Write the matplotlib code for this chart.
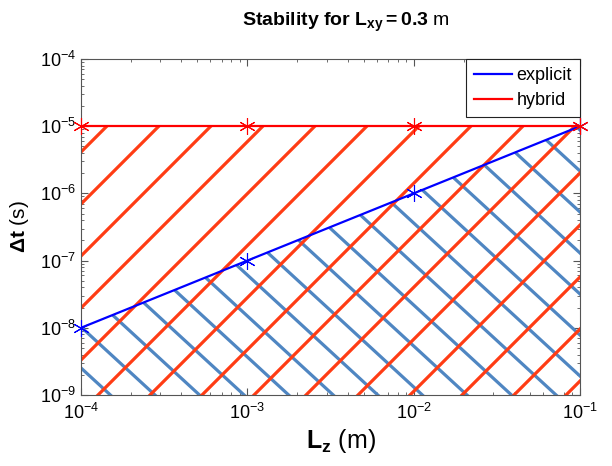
import numpy as np
import matplotlib
matplotlib.use('Agg')
import matplotlib.pyplot as plt
from matplotlib.collections import LineCollection

plt.rcParams['font.family'] = ['Liberation Sans', 'DejaVu Sans']
plt.rcParams['mathtext.fontset'] = 'custom'
plt.rcParams['mathtext.rm'] = 'Liberation Sans'
plt.rcParams['mathtext.it'] = 'Liberation Sans:italic'
plt.rcParams['mathtext.bf'] = 'Liberation Sans:bold'

# data
Lz = [1e-4, 1e-3, 1e-2, 1e-1]
dt_explicit = [1e-8, 1e-7, 1e-6, 1e-5]
dt_hybrid = [1e-5, 1e-5, 1e-5, 1e-5]
ymin, ymax = 1e-9, 1e-4

fig = plt.figure(figsize=(6.12, 4.66), dpi=100)
ax = fig.add_axes([0.1324, 0.1524, 0.8154, 0.721])
ax.set_xscale('log')
ax.set_yscale('log')
ax.set_xlim(Lz[0], Lz[-1])
ax.set_ylim(ymin, ymax)

# regions used as clip paths for the hatch lines
reg_h = ax.fill_between(Lz, ymin, dt_hybrid, facecolor='none', edgecolor='none')
reg_e = ax.fill_between(Lz, ymin, dt_explicit, facecolor='none', edgecolor='none')

W, H = 499.0, 336.0  # axes size in pixels


def hatch(region, slope, c0, step, color):
    # parallel lines py = slope*px + c (pixels), clipped to a region
    segs = []
    for k in range(-40, 40):
        c = c0 + k * step
        x0, x1 = -2 * W, 2 * W
        segs.append([(x0 / W, (slope * x0 + c) / H), (x1 / W, (slope * x1 + c) / H)])
    lc = LineCollection(segs, colors=color, linewidths=2.3,
                        transform=ax.transAxes, zorder=2)
    ax.add_collection(lc)
    lc.set_clip_path(region.get_paths()[0], ax.transData)


hatch(reg_e, -0.92, 68, 41, '#4f86c2')
hatch(reg_h, 1.0, -17, 52, '#ff3c14')

ax.plot(Lz, dt_explicit, color='#0000ff', lw=1.6, label='explicit', zorder=3)
ax.plot(Lz, dt_hybrid, color='#ff0000', lw=1.6, label='hybrid', zorder=3)
ax.plot(Lz, dt_explicit, ls='none', color='#0000ff', marker=(6, 2, 0), ms=12,
        mew=0.8, zorder=4, clip_on=False)
ax.plot(Lz, dt_hybrid, ls='none', color='#ff0000', marker=(6, 2, 0), ms=12,
        mew=0.8, zorder=4, clip_on=False)

ax.tick_params(which='both', direction='in', top=True, right=True,
               labelsize=13, color='#555555')
ax.tick_params(axis='x', which='both', pad=6)
ax.tick_params(which='major', length=5)
ax.tick_params(which='minor', length=2.5)
for s in ax.spines.values():
    s.set_color('#555555')

ax.set_title(r'$\mathbf{Stability\ for\ L_{xy}=0.3}$ m',
             fontsize=14, x=0.53, pad=24)
ax.set_xlabel(r'$\mathbf{L_z}$ (m)', fontsize=18)
ax.xaxis.set_label_coords(0.52, -0.095)
ax.set_ylabel(r'$\mathbf{\Delta t}$ (s)', fontsize=15)
ax.yaxis.set_label_coords(-0.10, 0.5)

leg = ax.legend(loc='upper right', fontsize=13, fancybox=False,
                edgecolor='#222222', framealpha=1, borderaxespad=0,
                handlelength=2.1, handletextpad=0.25, borderpad=0.45,
                labelspacing=0.45)
leg.get_frame().set_linewidth(0.8)
leg.set_zorder(5)

fig.savefig('out.png', dpi=100)
